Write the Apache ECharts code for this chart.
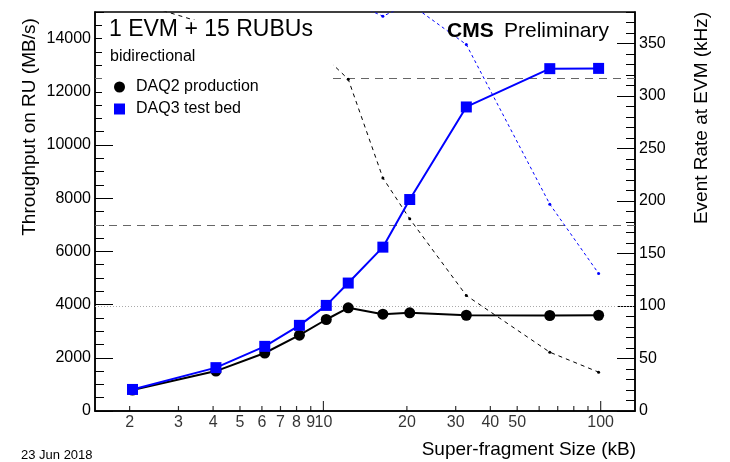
<!DOCTYPE html>
<html>
<head>
<meta charset="utf-8">
<title>1 EVM + 15 RUBUs</title>
<script src="https://cdn.jsdelivr.net/npm/echarts@6/dist/echarts.min.js"></script>
<style>
  html, body { margin: 0; padding: 0; background: #fff; }
  #chart { width: 730px; height: 462px; }
</style>
</head>
<body>
<div id="chart"></div>
<script>
// super-fragment sizes (kB)
var sizes = [2.048, 4.096, 6.144, 8.192, 10.24, 12.288, 16.384, 20.48, 32.768, 65.536, 98.304];
// throughput per RU (MB/s)
var daq2Throughput = [790, 1500, 2180, 2850, 3440, 3880, 3640, 3690, 3600, 3590, 3600];
var daq3Throughput = [810, 1630, 2430, 3220, 3970, 4810, 6160, 7950, 11430, 12870, 12880];
// event rate at EVM (kHz), many points sit above the frame
var daq2Rate = [390, 366, 354, 348, 336, 316, 222, 183, 110, 56, 37];
var daq3Rate = [396, 397, 395, 393, 388, 391, 376, 388, 349, 197, 131];

// x axis ticks (log scale)
var xTickValues = [2, 3, 4, 5, 6, 7, 8, 9, 10, 20, 30, 40, 50, 60, 70, 80, 90, 100];
var xTickLabels = ['2', '3', '4', '5', '6', '7', '8', '9', '10', '20', '30', '40', '50', '', '', '', '', '100'];
var xMajorTicks = [10, 100];

// reference lines
var refThroughput = [7000, 12500];   // MB/s
var refRate = [100];                 // kHz

var FONT = "'Liberation Sans', Arial, Helvetica, sans-serif";

function pairs(xs, ys) {
  return xs.map(function (x, i) { return [x, ys[i]]; });
}

function plain(v) { return String(v); }

var chart = echarts.init(document.getElementById('chart'));

var xTickData = xTickValues.map(function (v, i) {
  var major = xMajorTicks.indexOf(v) >= 0;
  var len = major ? 10 : 5;
  return {
    value: [v, 0],
    symbolSize: [1.2, len],
    symbolOffset: [0, -len / 2],
    label: { show: xTickLabels[i] !== '', formatter: xTickLabels[i] }
  };
});

chart.setOption({
  animation: false,
  grid: {
    left: 95, right: 95, top: 12, bottom: 51,
    show: true, borderColor: '#000', borderWidth: 1.5, backgroundColor: 'transparent'
  },
  legend: {
    data: [
      { name: 'DAQ2 production', icon: 'circle' },
      { name: 'DAQ3 test bed', icon: 'rect' }
    ],
    orient: 'vertical',
    left: 114, top: 79, padding: 0,
    itemWidth: 11, itemHeight: 11, itemGap: 6,
    selectedMode: false,
    z: 8,
    textStyle: { fontSize: 16, color: '#000', fontFamily: FONT, padding: [0, 0, 0, 6] }
  },
  xAxis: {
    type: 'log',
    logBase: 10,
    min: 1.5,
    max: 133,
    axisLine: { show: true, onZero: false, lineStyle: { color: '#000', width: 1.5 } },
    axisTick: { show: false },
    axisLabel: { show: false },
    splitLine: { show: false }
  },
  yAxis: [
    {
      type: 'value', position: 'left', min: 0, max: 15000, interval: 2000,
      axisLine: { show: true, lineStyle: { color: '#000', width: 1.5 } },
      axisTick: { show: true, inside: true, length: 18, lineStyle: { color: '#000' } },
      axisLabel: { color: '#000', fontSize: 16, fontFamily: FONT, margin: 4, showMaxLabel: false, formatter: plain },
      splitLine: { show: false }
    },
    {
      type: 'value', position: 'left', min: 0, max: 15000, interval: 500,
      axisLine: { show: false },
      axisTick: { show: true, inside: true, length: 9, lineStyle: { color: '#000' } },
      axisLabel: { show: false },
      splitLine: { show: false }
    },
    {
      type: 'value', position: 'right', min: 0, max: 380, interval: 50,
      axisLine: { show: true, lineStyle: { color: '#000', width: 1.5 } },
      axisTick: { show: true, inside: true, length: 18, lineStyle: { color: '#000' } },
      axisLabel: { color: '#000', fontSize: 16, fontFamily: FONT, margin: 4, showMaxLabel: false, formatter: plain },
      splitLine: { show: false }
    },
    {
      type: 'value', position: 'right', min: 0, max: 380, interval: 10,
      axisLine: { show: false },
      axisTick: { show: true, inside: true, length: 9, lineStyle: { color: '#000' } },
      axisLabel: { show: false },
      splitLine: { show: false }
    }
  ],
  series: [
    {
      name: 'DAQ2 rate',
      type: 'line',
      yAxisIndex: 2,
      data: pairs(sizes, daq2Rate),
      symbol: 'circle', symbolSize: 3,
      itemStyle: { color: '#000' },
      lineStyle: { color: '#000', width: 1, type: [4, 4] },
      silent: true,
      markLine: {
        silent: true, symbol: 'none', label: { show: false }, z: 1,
        lineStyle: { color: '#aaa', width: 1, type: [1, 2] },
        data: refRate.map(function (v) { return { yAxis: v }; })
      }
    },
    {
      name: 'DAQ3 rate',
      type: 'line',
      yAxisIndex: 2,
      data: pairs(sizes, daq3Rate),
      symbol: 'circle', symbolSize: 3,
      itemStyle: { color: '#0000ff' },
      lineStyle: { color: '#0000ff', width: 1, type: [3, 3] },
      silent: true
    },
    {
      name: 'DAQ2 production',
      type: 'line',
      yAxisIndex: 0,
      data: pairs(sizes, daq2Throughput),
      symbol: 'circle', symbolSize: 11,
      itemStyle: { color: '#000' },
      lineStyle: { color: '#000', width: 2 },
      silent: true,
      markLine: {
        silent: true, symbol: 'none', label: { show: false }, z: 1,
        lineStyle: { color: '#666', width: 1, type: [8, 6] },
        data: refThroughput.map(function (v) { return { yAxis: v }; })
      }
    },
    {
      name: 'DAQ3 test bed',
      type: 'line',
      yAxisIndex: 0,
      data: pairs(sizes, daq3Throughput),
      symbol: 'rect', symbolSize: 11,
      itemStyle: { color: '#0000ff' },
      lineStyle: { color: '#0000ff', width: 2 },
      silent: true
    },
    {
      name: 'xticks',
      type: 'scatter',
      yAxisIndex: 0,
      data: xTickData,
      symbol: 'rect',
      clip: false,
      silent: true,
      itemStyle: { color: '#000' },
      label: { position: 'bottom', distance: 4, fontSize: 16, color: '#000', fontFamily: FONT }
    }
  ],
  graphic: [
    // white box behind the title and legend, as in the original
    { type: 'rect', z: 7, shape: { x: 102, y: 20, width: 231, height: 105 }, style: { fill: '#fff' } },
    { type: 'text', z: 10, x: 109, y: 30,
      style: { text: '1 EVM + 15 RUBUs', font: '23px ' + FONT, fill: '#000', textVerticalAlign: 'middle' } },
    { type: 'text', z: 10, x: 110, y: 57,
      style: { text: 'bidirectional', font: '16px ' + FONT, fill: '#000', textVerticalAlign: 'middle' } },
    { type: 'text', z: 10, x: 447, y: 31,
      style: { text: 'CMS', font: 'bold 21px ' + FONT, fill: '#000', textVerticalAlign: 'middle' } },
    { type: 'text', z: 10, x: 504, y: 31,
      style: { text: 'Preliminary', font: '21px ' + FONT, fill: '#000', textVerticalAlign: 'middle' } },
    { type: 'text', z: 10, x: 30, y: 127, rotation: Math.PI / 2,
      style: { text: 'Throughput on RU (MB/s)', font: '19px ' + FONT, fill: '#000', textAlign: 'center', textVerticalAlign: 'middle' } },
    { type: 'text', z: 10, x: 702, y: 118, rotation: Math.PI / 2,
      style: { text: 'Event Rate at EVM (kHz)', font: '19px ' + FONT, fill: '#000', textAlign: 'center', textVerticalAlign: 'middle' } },
    { type: 'text', z: 10, x: 636, y: 450,
      style: { text: 'Super-fragment Size (kB)', font: '19px ' + FONT, fill: '#000', textAlign: 'right', textVerticalAlign: 'middle' } },
    { type: 'text', z: 10, x: 21, y: 455,
      style: { text: '23 Jun 2018', font: '13px ' + FONT, fill: '#000', textVerticalAlign: 'middle' } }
  ]
});

window.addEventListener('resize', function () {
  chart.resize();
});
</script>
</body>
</html>
